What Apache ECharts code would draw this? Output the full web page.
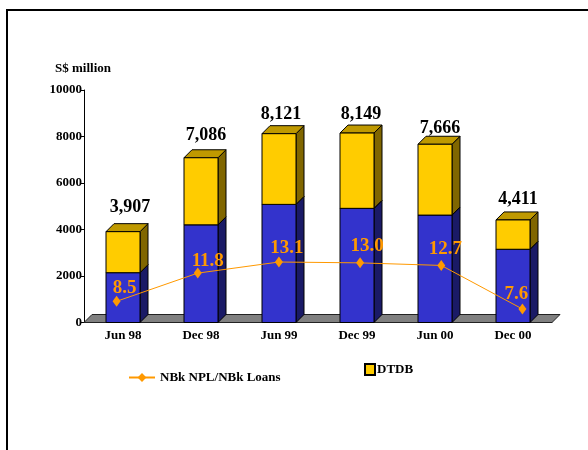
<!DOCTYPE html>
<html><head><meta charset="utf-8">
<style>html,body{margin:0;padding:0;background:#fff}#c{width:588px;height:450px}</style>
<script src="https://cdn.jsdelivr.net/npm/echarts@6/dist/echarts.min.js"></script>
</head><body><div id="c"></div>
<script>
const categories = ['Jun 98','Dec 98','Jun 99','Dec 99','Jun 00','Dec 00'];
const nbkValues  = [2142, 4200, 5080, 4910, 4620, 3150];
const dtdbValues = [1765, 2886, 3041, 3239, 3046, 1261];
const totalLabels = ['3,907','7,086','8,121','8,149','7,666','4,411'];
const ratioValues = [8.5, 11.8, 13.1, 13.0, 12.7, 7.6];
const yTicks = {min:0, max:10000, interval:2000};

// layout-only nudges for text placement
const totalNudge = [[7,-24.5],[5,-22.5],[2,-19.5],[4,-19],[5,-16],[5,-20.5]];
const ratioNudge = [[8,-13],[10,-12],[8,-14],[7,-17],[4,-16],[-6,-15]];
const FONT = '"Liberation Serif","Times New Roman",serif';
const DEPTH = 8, BAR_W = 34;

function box(api, lo, hi, front, side, top, textIdx){
  const i = api.value(0);
  const a = api.coord([i, lo]), b = api.coord([i, hi]);
  const x0 = a[0]-BAR_W/2, x1 = a[0]+BAR_W/2, y0 = a[1], y1 = b[1], d = DEPTH;
  const st = {stroke:'#000', lineWidth:1};
  const kids = [
    {type:'polygon', shape:{points:[[x1,y1],[x1+d,y1-d],[x1+d,y0-d],[x1,y0]]}, style:{fill:side,...st}},
    {type:'polygon', shape:{points:[[x0,y1],[x0+d,y1-d],[x1+d,y1-d],[x1,y1]]}, style:{fill:top,...st}},
    {type:'rect', shape:{x:x0,y:y1,width:BAR_W,height:y0-y1}, style:{fill:front,...st}}
  ];
  if(textIdx!==undefined){
    const n = totalNudge[textIdx];
    kids.push({type:'text', style:{text:totalLabels[textIdx], x:a[0]+n[0], y:y1+n[1], align:'center', verticalAlign:'middle',
      font:'bold 18px '+FONT, fill:'#000'}});
  }
  return {type:'group', children:kids};
}

const option = {
  animation:false,
  backgroundColor:'#fff',
  title:{text:'S$ million', left:50, top:57, textStyle:{fontFamily:FONT,fontWeight:'bold',fontSize:13,color:'#000'}},
  legend:[
    {data:['NBk NPL/NBk Loans'], left:128, top:371, itemWidth:26, itemHeight:11, padding:0,
     textStyle:{fontFamily:FONT,fontWeight:'bold',fontSize:13,color:'#000'}},
    {data:[{name:'DTDB',icon:'rect'}], left:364, top:363, itemWidth:10, itemHeight:11, padding:0,
     textStyle:{fontFamily:FONT,fontWeight:'bold',fontSize:13,color:'#000',padding:[0,0,0,-3]}}
  ],
  grid:[
    {left:84, top:90, width:468, height:232.5},
    {left:76, top:83.5, width:487, height:290.4}
  ],
  xAxis:[
    {type:'category', gridIndex:0, data:categories, axisTick:{show:false},
     axisLine:{lineStyle:{color:'#000',width:1}},
     axisLabel:{fontFamily:FONT,fontWeight:'bold',fontSize:13,color:'#000',margin:7,interval:0}},
    {type:'category', gridIndex:1, data:categories, show:false}
  ],
  yAxis:[
    {type:'value', gridIndex:0, min:yTicks.min, max:yTicks.max, interval:yTicks.interval, splitLine:{show:false},
     axisLine:{show:true,lineStyle:{color:'#000',width:1}},
     axisTick:{show:true,length:3,lineStyle:{color:'#000'}},
     axisLabel:{fontFamily:FONT,fontWeight:'bold',fontSize:13,color:'#000',margin:2,formatter:v=>String(v)}},
    {type:'value', gridIndex:1, min:0, max:34, show:false}
  ],
  series:[
    {type:'custom', name:'floor', xAxisIndex:0, yAxisIndex:0, z:1, silent:true, clip:false, data:[[0]],
     renderItem:(p,api)=>{
       const c = p.coordSys, y0 = c.y+c.height, x0 = c.x, x1 = c.x+c.width, d = DEPTH;
       return {type:'polygon', shape:{points:[[x0,y0],[x0+d,y0-d],[x1+d,y0-d],[x1,y0]]}, style:{fill:'#808080',stroke:'#222',lineWidth:1}};
     }},
    {type:'custom', name:'NBk', xAxisIndex:0, yAxisIndex:0, z:2, clip:false,
     itemStyle:{color:'#3333CC'},
     data:nbkValues.map((v,i)=>[i,v]),
     renderItem:(p,api)=>box(api, 0, api.value(1), '#3333CC', '#1A1A66', '#262699')},
    {type:'custom', name:'DTDB', xAxisIndex:0, yAxisIndex:0, z:3, clip:false,
     itemStyle:{color:'#FFCC00',borderColor:'#000',borderWidth:1},
     data:dtdbValues.map((v,i)=>[i,nbkValues[i],nbkValues[i]+v]),
     renderItem:(p,api)=>box(api, api.value(1), api.value(2), '#FFCC00', '#806600', '#BF9900', p.dataIndex)},
    {type:'line', name:'NBk NPL/NBk Loans', xAxisIndex:1, yAxisIndex:1, z:5,
     symbol:'diamond', symbolSize:[8,11], showAllSymbol:true,
     lineStyle:{color:'#FF9900',width:1}, itemStyle:{color:'#FF9900'},
     data:ratioValues.map((v,i)=>({value:v,label:{offset:[ratioNudge[i][0],ratioNudge[i][1]]}})),
     label:{show:true,position:'inside',formatter:p=>p.value.toFixed(1),
       fontFamily:FONT,fontWeight:'bold',fontSize:19,color:'#FF9900'}}
  ],
  graphic:[
    {type:'polyline', silent:true, z:10, shape:{points:[[7,450],[7,10],[588,10]]}, style:{stroke:'#000',fill:null,lineWidth:2}}
  ]
};
echarts.init(document.getElementById('c'),null,{renderer:'canvas'}).setOption(option);
</script></body></html>
